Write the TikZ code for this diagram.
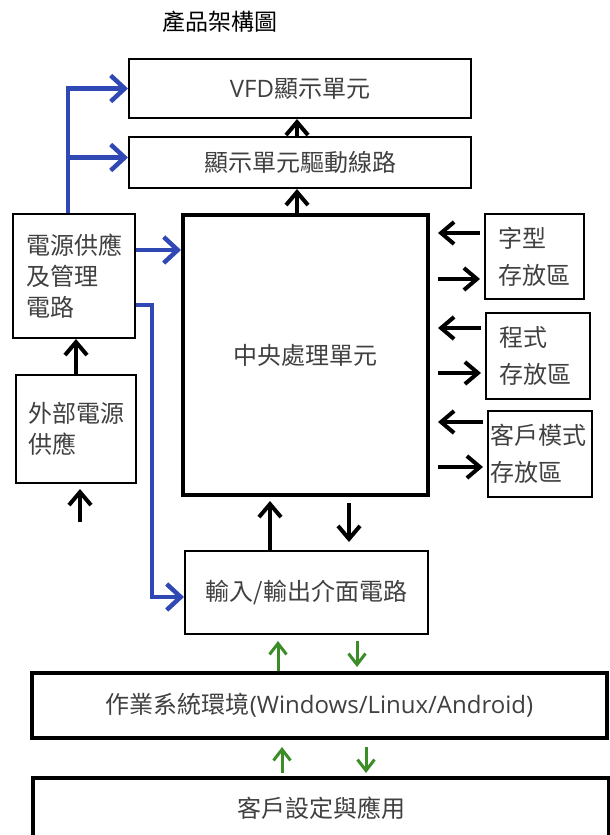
\documentclass[tikz,border=0pt]{standalone}
\usepackage{fontspec}
\setmainfont{Noto Sans CJK TC}
\newfontfamily\latinfont{Open Sans}
\usetikzlibrary{arrows.meta, positioning}
\definecolor{pwrblue}{RGB}{48,72,180}
\definecolor{iogreen}{RGB}{60,140,40}

\begin{document}
\begin{tikzpicture}[x=1pt, y=-1pt,
            box/.style = {draw, line width=2pt, text=black!75, align=center,
                          font=\fontsize{24}{31}\selectfont, inner sep=0pt},
            heavy/.style = {box, line width=4pt},
            side/.style = {box, align=left, font=\fontsize{24}{37}\selectfont},
            blk/.style = {line width=4pt, -{Straight Barb[length=13pt,width=22pt]}},
            blu/.style = {pwrblue, line width=4.5pt, -{Straight Barb[length=14pt,width=26pt]}},
            grn/.style = {iogreen, line width=3pt, -{Straight Barb[length=11pt,width=17pt]}}
                                 ]
            \useasboundingbox (0,0) rectangle (610,835);
            \clip (0,0) rectangle (610,835);
            \node (TITLE) at (220,22) {\fontsize{23}{28}\selectfont 產品架構圖};
            \node[box, minimum width=342, minimum height=59] (VFD) at (300,88.5) {{\latinfont VFD}顯示單元};
            \node[box, minimum width=342, minimum height=51] (DRV) at (300,162.5) {顯示單元驅動線路};
            \node[heavy, minimum width=245, minimum height=280] (CPU) at (305.5,355) {中央處理單元};
            \node[box, align=left, text width=96, inner xsep=13, minimum height=124] (PWR) at (74,276) {電源供應\\及管理\\電路};
            \node[box, align=left, text width=96, inner xsep=12, minimum height=108] (EXT) at (76,429) {外部電源\\供應};
            \node[side, text width=73, inner xsep=13, minimum height=85] (FONT) at (534.5,256.5) {字型\\存放區};
            \node[side, text width=78, inner xsep=13, minimum height=86] (PROG) at (538,356) {程式\\存放區};
            \node[side, text width=100, inner xsep=2, minimum height=86] (CUST) at (540,454) {客戶模式\\存放區};
            \node[box, minimum width=243, minimum height=83] (IO) at (306.5,592.5) {輸入/輸出介面電路};
            \node[heavy, minimum width=575, minimum height=65] (OS) at (319.5,705.5) {作業系統環境{\latinfont(Windows/Linux/Android)}};
            \node[heavy, minimum width=576, minimum height=60] (APP) at (321,808) {客戶設定與應用};
            \coordinate (FORK) at ([xshift=-6pt]PWR.north |- DRV.west);
            \coordinate (PWRIN) at (80,522);
            \coordinate (PWRTIP) at (80,489);
            %
            \draw [blk] ([xshift=-3pt]DRV.north) -- ([xshift=-3pt]DRV.north |- VFD.south);
            \draw [blk] ([xshift=-8.5pt]CPU.north) -- ([xshift=-8.5pt]CPU.north |- DRV.south);
            \draw [blk] (EXT.north) -- (EXT.north |- PWR.south);
            \draw [blk] (PWRIN) -- (PWRTIP);
            %
            \draw [blu] ([xshift=-6pt]PWR.north) |- (VFD.west);
            \draw [blu] ([yshift=5pt]FORK) -- ([yshift=5pt]DRV.west);
            \draw [blu] ([yshift=26pt]PWR.east) -- ([yshift=26pt]PWR.east -| CPU.west);
            \draw [blu] ([yshift=-29pt]PWR.east) -| ([xshift=-32pt,yshift=-4.5pt]IO.west)
                                                  -- ([yshift=-4.5pt]IO.west);
            %
            \draw [blk, shorten <=4pt, shorten >=8pt] ([yshift=23.5pt]FONT.west) -- ([yshift=23.5pt]FONT.west -| CPU.east);
            \draw [blk, shorten <=8pt, shorten >=4pt] ([yshift=-22.5pt]FONT.west -| CPU.east) -- ([yshift=-22.5pt]FONT.west);
            \draw [blk, shorten <=4pt, shorten >=8pt] ([yshift=28pt]PROG.west) -- ([yshift=28pt]PROG.west -| CPU.east);
            \draw [blk, shorten <=8pt, shorten >=4pt] ([yshift=-17pt]PROG.west -| CPU.east) -- ([yshift=-17pt]PROG.west);
            \draw [blk, shorten <=4pt, shorten >=8pt] ([yshift=32pt]CUST.west) -- ([yshift=32pt]CUST.west -| CPU.east);
            \draw [blk, shorten <=8pt, shorten >=4pt] ([yshift=-13pt]CUST.west -| CPU.east) -- ([yshift=-13pt]CUST.west);
            %
            \draw [blk, shorten >=4pt] ([xshift=-36.5pt]IO.north) -- ([xshift=-36.5pt]IO.north |- CPU.south);
            \draw [blk, shorten <=6pt, shorten >=8pt] ([xshift=42.5pt]IO.north |- CPU.south) -- ([xshift=42.5pt]IO.north);
            \draw [grn, shorten >=6pt] ([xshift=-28.5pt]IO.south |- OS.north) -- ([xshift=-28.5pt]IO.south);
            \draw [grn, shorten <=6pt, shorten >=4pt] ([xshift=50.5pt]IO.south) -- ([xshift=50.5pt]IO.south |- OS.north);
            \draw [grn, shorten <=3pt, shorten >=7pt] ([xshift=-37.5pt]OS.south |- APP.north) -- ([xshift=-37.5pt]OS.south);
            \draw [grn, shorten <=7pt, shorten >=3pt] ([xshift=46.5pt]OS.south) -- ([xshift=46.5pt]OS.south |- APP.north);
    \end{tikzpicture}
\end{document}
